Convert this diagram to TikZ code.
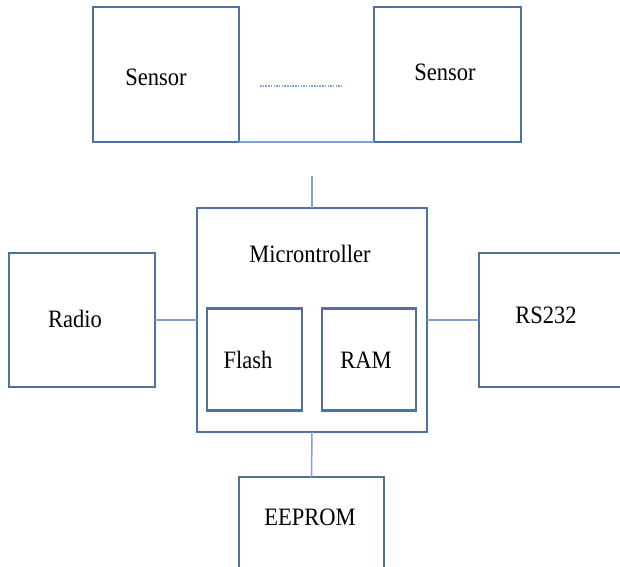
\documentclass[tikz,border=0pt]{standalone}
\usepackage{fontspec}
\setmainfont{Liberation Serif}[FakeStretch=0.9]
\definecolor{boxc}{RGB}{79,113,162}
\definecolor{linec}{RGB}{130,163,209}
\begin{document}
\begin{tikzpicture}[x=1pt,y=-1pt,
  box/.style={draw=boxc,line width=2.6pt,rectangle,inner sep=0pt,outer sep=0pt},
  lbl/.style={anchor=base,inner sep=0pt,font=\fontsize{25}{28}\selectfont},
  conn/.style={draw=linec,line width=1.5pt}]
\useasboundingbox (0,0) rectangle (620,566);
\clip (0,0) rectangle (620,566);
% boxes
\node[box,minimum width=146pt,minimum height=135pt] (s1) at (166,74.5) {};
\node[box,minimum width=147pt,minimum height=135pt] (s2) at (447.5,74.5) {};
\node[box,minimum width=230pt,minimum height=224pt] (mc) at (312,320) {};
\node[box,minimum width=146pt,minimum height=134pt] (radio) at (82,320) {};
\node[box,minimum width=160pt,minimum height=134pt] (rs) at (559,320) {};
\node[box,minimum width=95pt,minimum height=102pt] (flash) at (254.5,359.5) {};
\node[box,minimum width=94pt,minimum height=102pt] (ram) at (369,359.5) {};
\node[box,minimum width=145pt,minimum height=110pt] (ee) at (311.5,532) {};
% labels
\node[lbl] (t1) at (156,85) {Sensor};
\node[lbl] (t2) at (445,80) {Sensor};
\node[lbl] (tm) at (310,262) {Microntroller};
\node[lbl] (tr) at (75,327) {Radio};
\node[lbl] (ts) at (546,323) {RS232};
\node[lbl] (tf) at (248,368) {Flash};
\node[lbl] (tram) at (366,368) {RAM};
\node[lbl] (te) at (310,525) {EEPROM};
% connectors
\draw[conn] (s1.south east) -- (s2.south west);
\coordinate (d1) at (260,86);
\coordinate (d2) at (342,86);
\draw[draw=linec,line width=1.2pt,dash pattern=on 1.5pt off 1.2pt] (d1) -- (d2);
\coordinate (vtop) at (312,176);
\draw[conn] (vtop) -- (mc.north);
\draw[conn] (radio.east) -- (mc.west);
\draw[conn] (mc.east) -- (rs.west);
\draw[conn] (mc.south) -- (ee.north);
\end{tikzpicture}
\end{document}
